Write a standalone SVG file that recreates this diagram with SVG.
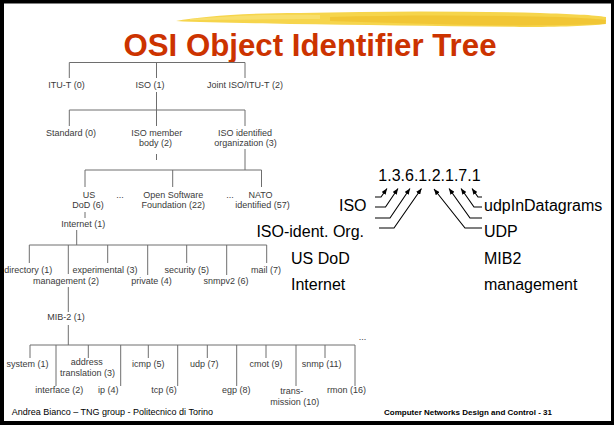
<svg xmlns="http://www.w3.org/2000/svg" width="614" height="425" viewBox="0 0 614 425">
<defs>
<style>
.tl{fill:none;stroke:#6e6e6e;stroke-width:1}
.tt{font-family:"Liberation Sans",Arial,sans-serif;font-size:9px;fill:#3a3a3a;text-anchor:middle}
.big{font-family:"Liberation Sans",Arial,sans-serif;font-size:16px;fill:#000}
.ar{fill:none;stroke:#000;stroke-width:1.1;marker-end:url(#ah)}
.foot{font-family:"Liberation Sans",Arial,sans-serif;font-size:9px;fill:#000}
.footb{font-family:"Liberation Sans",Arial,sans-serif;font-size:8px;font-weight:bold;fill:#000;text-anchor:end}
</style>
<marker id="ah" markerUnits="userSpaceOnUse" markerWidth="6" markerHeight="5" refX="6" refY="2.5" orient="auto">
<path d="M0,0 L6,2.5 L0,5 z" fill="#000"/>
</marker>
</defs>
<rect x="0" y="0" width="614" height="425" fill="#000"/>
<rect x="4" y="3.5" width="607" height="417.5" fill="#fff"/>
<g id="brush">
<path d="M176,21 C200,17 240,13 300,13 C380,11 460,11 540,13 C570,14 595,15 606,17 L606,24 C590,26 560,27 520,27 C440,26 360,25 290,24 C240,23 200,22.5 176,21 z" fill="#F6D54C"/>
<path d="M330,17 C400,15 480,15 560,17 C585,18 600,19 606,20 L605,24 C570,25 520,26 470,25 C420,24 370,22 330,21 z" fill="#EDBA22" opacity="0.55"/>
<path d="M190,19 C240,15 280,14 320,15 L320,19 C280,19 230,20 190,20 z" fill="#F9E27A" opacity="0.7"/>
</g>
<text id="title" x="310" y="56" font-family="'Liberation Sans',Arial,sans-serif" font-size="31" font-weight="bold" fill="#CC3300" text-anchor="middle" textLength="373" lengthAdjust="spacingAndGlyphs">OSI Object Identifier Tree</text>
<g id="connectors">
<path class="tl" d="M69.3,62.5 H245 M69.3,62.5 V78 M156.5,62.5 V78 M245,62.5 V78"/>
<path class="tl" d="M156.5,92 V110 M69.3,110 H245 M69.3,110 V126 M156.5,110 V126 M245,110 V126"/>
<path class="tl" d="M156.5,154 V160 M245,149 V170 M85,170 H261.5 M85,170 V187 M172.7,170 V187 M261.5,170 V187"/>
<path class="tl" d="M85,212 V218 M76.7,230 V245 M29.3,245 H266.7 M29.3,245 V263 M107.7,245 V263 M186.7,245 V263 M266.7,245 V263 M147.7,245 V275 M226.7,245 V275"/>
<path class="tl" d="M68.3,245 V274 M68.3,287 V312 M68.3,325 V345"/>
<path class="tl" d="M30,345 H355 M30,345 V358 M88.3,345 V358 M148.3,345 V358 M207.3,345 V358 M266,345 V358 M325,345 V358 M56,345 V386 M120.7,345 V386 M177.7,345 V386 M236.7,345 V386 M296,345 V386 M355,345 V386"/>
</g>
<g id="n-itut"><text class="tt" x="66.5" y="88">ITU-T (0)</text></g>
<g id="n-iso"><text class="tt" x="150" y="88">ISO (1)</text></g>
<g id="n-joint"><text class="tt" x="245" y="88">Joint ISO/ITU-T (2)</text></g>
<g id="n-standard"><text class="tt" x="71" y="136">Standard (0)</text></g>
<g id="n-member"><text class="tt" x="156.7" y="136">ISO member</text><text class="tt" x="155.5" y="146">body (2)</text></g>
<g id="n-identorg"><text class="tt" x="245" y="136">ISO identified</text><text class="tt" x="245.5" y="146">organization (3)</text></g>
<g id="n-dod"><text class="tt" x="89" y="198">US</text><text class="tt" x="88" y="208">DoD (6)</text></g>
<g id="n-dots1"><text class="tt" x="120" y="198">...</text></g>
<g id="n-osf"><text class="tt" x="173.3" y="198">Open Software</text><text class="tt" x="173.3" y="208">Foundation (22)</text></g>
<g id="n-dots2"><text class="tt" x="230" y="198">...</text></g>
<g id="n-nato"><text class="tt" x="260.5" y="198">NATO</text><text class="tt" x="262.5" y="208">identified (57)</text></g>
<g id="n-internet"><text class="tt" x="83.3" y="227">Internet (1)</text></g>
<g id="n-directory"><text class="tt" x="28.3" y="273">directory (1)</text></g>
<g id="n-management"><text class="tt" x="66" y="284">management (2)</text></g>
<g id="n-experimental"><text class="tt" x="105" y="273">experimental (3)</text></g>
<g id="n-private"><text class="tt" x="151.4" y="284">private (4)</text></g>
<g id="n-security"><text class="tt" x="186.7" y="273">security (5)</text></g>
<g id="n-snmpv2"><text class="tt" x="226" y="284">snmpv2 (6)</text></g>
<g id="n-mail"><text class="tt" x="266" y="273">mail (7)</text></g>
<g id="n-mib2"><text class="tt" x="66" y="320">MIB-2 (1)</text></g>
<g id="n-system"><text class="tt" x="27.5" y="367">system (1)</text></g>
<g id="n-interface"><text class="tt" x="59.2" y="393">interface (2)</text></g>
<g id="n-address"><text class="tt" x="86.7" y="365">address</text><text class="tt" x="87.5" y="376">translation (3)</text></g>
<g id="n-ip"><text class="tt" x="108.3" y="393">ip (4)</text></g>
<g id="n-icmp"><text class="tt" x="148.3" y="367">icmp (5)</text></g>
<g id="n-tcp"><text class="tt" x="164" y="393">tcp (6)</text></g>
<g id="n-udp"><text class="tt" x="204.2" y="367">udp (7)</text></g>
<g id="n-egp"><text class="tt" x="236.2" y="393">egp (8)</text></g>
<g id="n-cmot"><text class="tt" x="266" y="367">cmot (9)</text></g>
<g id="n-transmission"><text class="tt" x="291.7" y="394">trans-</text><text class="tt" x="294.7" y="405">mission (10)</text></g>
<g id="n-snmp"><text class="tt" x="321.7" y="367">snmp (11)</text></g>
<g id="n-rmon"><text class="tt" x="346.5" y="393">rmon (16)</text></g>
<g id="n-dots3"><text class="tt" x="362.5" y="340">...</text></g>
<g id="oid"><text class="big" x="378.3" y="180.5">1.3.6.1.2.1.7.1</text></g>
<g id="l-iso"><text class="big" x="366.5" y="211" text-anchor="end">ISO</text></g>
<g id="l-isoorg"><text class="big" x="364" y="237" text-anchor="end">ISO-ident. Org.</text></g>
<g id="l-usdod"><text class="big" x="291" y="264">US DoD</text></g>
<g id="l-internet"><text class="big" x="291" y="290">Internet</text></g>
<g id="l-udpin"><text class="big" x="484" y="211">udpInDatagrams</text></g>
<g id="l-udp"><text class="big" x="484" y="237">UDP</text></g>
<g id="l-mib2"><text class="big" x="484" y="264">MIB2</text></g>
<g id="l-mgmt"><text class="big" x="484" y="290">management</text></g>
<g id="arrows">
<path class="ar" d="M375,197 H381 L387,188.5"/>
<path class="ar" d="M375,207 H385.5 L398,188.5"/>
<path class="ar" d="M375,218 H390 L410,188.5"/>
<path class="ar" d="M379,228 H394 L421.5,188.5"/>
<path class="ar" d="M482,197 H478 L472,188.5"/>
<path class="ar" d="M482,207 H474 L461,188.5"/>
<path class="ar" d="M482,218 H470 L449,188.5"/>
<path class="ar" d="M482,228 H465 L434,189"/>
</g>
<text class="foot" x="11.7" y="415">Andrea Bianco – TNG group - Politecnico di Torino</text>
<text class="footb" x="552" y="415">Computer Networks Design and Control - 31</text>
</svg>
